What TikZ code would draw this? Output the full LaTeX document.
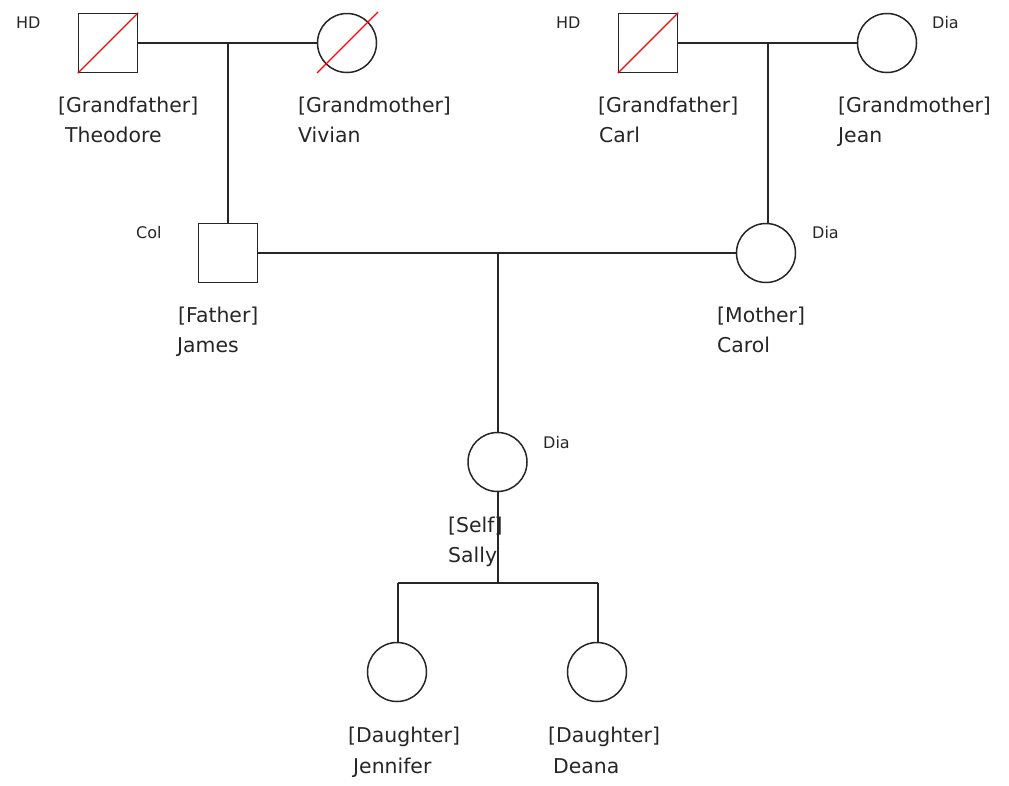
\documentclass[tikz,border=0pt]{standalone}
\usepackage{fontspec}
\setmainfont{DejaVu Sans}
\usetikzlibrary{calc}
\tikzset{
  male/.style={draw=black!85, line width=1.5pt, minimum size=59pt, inner sep=0pt, rectangle},
  female/.style={draw=black!85, line width=1.5pt, minimum size=59pt, inner sep=0pt, circle},
  rel/.style={draw=black!85, line width=1.6pt},
  dead/.style={draw=red, line width=1.1pt},
  lbl/.style={anchor=base west, inner sep=0pt, font=\fontsize{20.4}{24}\selectfont, text=black!85},
  tag/.style={anchor=base west, inner sep=0pt, font=\fontsize{16}{19}\selectfont, text=black!85}
}
\begin{document}
\begin{tikzpicture}[x=1pt,y=-1pt]
\useasboundingbox[fill=white] (0,0) rectangle (1009,785);
% persons
\node[male] (theo) at (108,43) {};
\node[female] (viv) at (347,43) {};
\node[male] (carl) at (648,43) {};
\node[female] (jean) at (887,43) {};
\node[male] (james) at (228,253) {};
\node[female] (carol) at (766,253) {};
\node[female] (sally) at (497.5,462) {};
\node[female] (jen) at (397,672) {};
\node[female] (dea) at (597,672) {};
% deceased slashes
\draw[dead] (theo.south west) -- (theo.north east);
\draw[dead] (carl.south west) -- (carl.north east);
\draw[dead] ([shift={(-30,30)}]viv.center) -- ([shift={(31,-31)}]viv.center);
% junctions
\coordinate (j1) at (228,43);
\coordinate (j2) at (768,43);
\coordinate (j3) at (498,253);
\coordinate (j4) at (498,583);
\coordinate (j4l) at (398,583);
\coordinate (j4r) at (598,583);
% connectors
\draw[rel] (theo.east) -- (viv.west);
\draw[rel] (j1) -- (james.north);
\draw[rel] (carl.east) -- (jean.west);
\draw[rel] (j2) -- (j2 |- carol.north);
\draw[rel] (james.east) -- (carol.west);
\draw[rel] (j3) -- (j3 |- sally.north);
\draw[rel] (j3 |- sally.south) -- (j4);
\draw[rel] (j4l) -- (j4r);
\draw[rel] (j4l) -- (j4l |- jen.north);
\draw[rel] (j4r) -- (j4r |- dea.north);
% tags
\node[tag] (t1) at (16,28) {HD};
\node[tag] (t2) at (556,28) {HD};
\node[tag] (t3) at (932,28) {Dia};
\node[tag] (t4) at (136,238) {Col};
\node[tag] (t5) at (812,238) {Dia};
\node[tag] (t6) at (543,448) {Dia};
% labels
\node[lbl] (l1a) at (58,112) {[Grandfather]};
\node[lbl] (l1b) at (65,142) {Theodore};
\node[lbl] (l2a) at (298,112) {[Grandmother]};
\node[lbl] (l2b) at (298,142) {Vivian};
\node[lbl] (l3a) at (598,112) {[Grandfather]};
\node[lbl] (l3b) at (599,142) {Carl};
\node[lbl] (l4a) at (838,112) {[Grandmother]};
\node[lbl] (l4b) at (838,142) {Jean};
\node[lbl] (l5a) at (178,322) {[Father]};
\node[lbl] (l5b) at (177,352) {James};
\node[lbl] (l6a) at (717,322) {[Mother]};
\node[lbl] (l6b) at (717,352) {Carol};
\node[lbl] (l7a) at (448,532) {[Self]};
\node[lbl] (l7b) at (448,562) {Sally};
\node[lbl] (l8a) at (348,742) {[Daughter]};
\node[lbl] (l8b) at (353,773) {Jennifer};
\node[lbl] (l9a) at (548,742) {[Daughter]};
\node[lbl] (l9b) at (553,773) {Deana};
\end{tikzpicture}
\end{document}
